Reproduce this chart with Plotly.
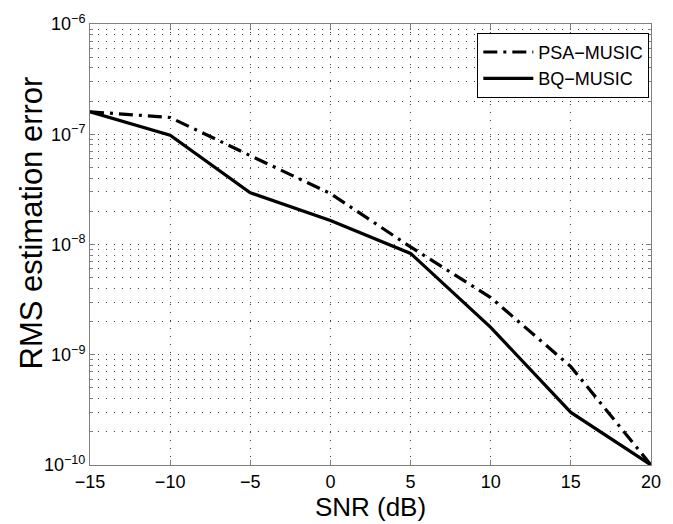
import plotly.graph_objects as go

snr = [-15, -10, -5, 0, 5, 10, 15, 20]
psa_music = [1.6e-7, 1.42e-7, 6.4e-8, 2.9e-8, 9.5e-9, 3.3e-9, 7.8e-10, 1.0e-10]
bq_music = [1.6e-7, 9.8e-8, 2.95e-8, 1.65e-8, 8.3e-9, 1.77e-9, 3.0e-10, 1.0e-10]

x_ticks = [-15, -10, -5, 0, 5, 10, 15, 20]
x_ticktext = ["\u221215", "\u221210", "\u22125", "0", "5", "10", "15", "20"]
y_ticks = [1e-10, 1e-9, 1e-8, 1e-7, 1e-6]
y_ticktext = ["10<sup>\u221210</sup>", "10<sup>\u22129</sup>", "10<sup>\u22128</sup>",
              "10<sup>\u22127</sup>", "10<sup>\u22126</sup>"]
y_minor = [k * 10.0 ** e for e in range(-10, -6) for k in range(2, 10)]

font = "Liberation Sans, Arial, sans-serif"
grid_dash = "1px,7px"
grid_col = "#444444"

fig = go.Figure()
fig.add_trace(go.Scatter(x=snr, y=psa_music, mode="lines", name="PSA\u2212MUSIC",
                         line=dict(color="black", width=3.2, dash="14px,6px,3px,6px")))
fig.add_trace(go.Scatter(x=snr, y=bq_music, mode="lines", name="BQ\u2212MUSIC",
                         line=dict(color="black", width=3.2)))

axis_common = dict(showline=True, linecolor="#808080", linewidth=1, mirror="ticks",
                   ticks="inside", ticklen=5, tickcolor="#808080",
                   showgrid=True, gridcolor=grid_col, griddash=grid_dash, gridwidth=1,
                   zeroline=False, tickfont=dict(family=font, size=18, color="black"))

fig.update_layout(
    width=673, height=524,
    margin=dict(l=90, r=13, t=24, b=53),
    paper_bgcolor="white", plot_bgcolor="white",
    font=dict(family=font, color="black"),
    legend=dict(x=0.997, y=0.98, xanchor="right", yanchor="top",
                bgcolor="white", bordercolor="black", borderwidth=1,
                font=dict(family=font, size=18, color="black"),
                tracegroupgap=0, itemwidth=50),
    showlegend=True,
    annotations=[dict(text="RMS estimation error", textangle=-90,
                      xref="paper", yref="paper", x=-0.105, y=0.548,
                      xanchor="center", yanchor="middle", showarrow=False,
                      font=dict(family=font, size=31, color="black"))],
)
fig.update_xaxes(range=[-15, 20], tickvals=x_ticks, ticktext=x_ticktext,
                 title=dict(text="SNR (dB)", font=dict(family=font, size=26), standoff=2),
                 **axis_common)
fig.update_yaxes(type="log", range=[-10, -6], tickvals=y_ticks, ticktext=y_ticktext,
                 minor=dict(tickvals=y_minor, showgrid=True, gridcolor=grid_col,
                            griddash=grid_dash, gridwidth=1, ticks="inside", ticklen=3,
                            tickcolor="#808080"),
                 **axis_common)

fig.write_html("out.html")
